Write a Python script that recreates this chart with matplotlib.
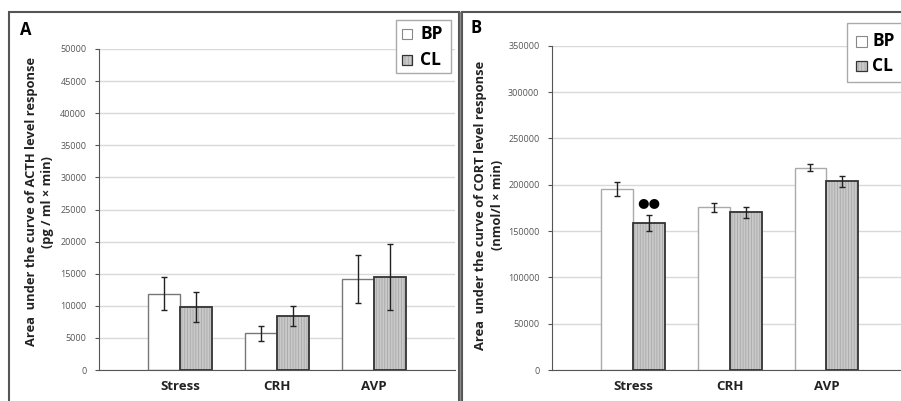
import matplotlib
matplotlib.use("Agg")
import matplotlib.pyplot as plt
from matplotlib.patches import Rectangle
import numpy as np

categories = ["Stress", "CRH", "AVP"]
acth_bp = [11900, 5700, 14200]
acth_bp_err = [2600, 1200, 3750]
acth_cl = [9800, 8400, 14500]
acth_cl_err = [2300, 1550, 5150]

cort_bp = [195000, 175500, 218500]
cort_bp_err = [7500, 5000, 4000]
cort_cl = [158500, 170300, 203500]
cort_cl_err = [9000, 6000, 5500]

yticks_a = list(range(0, 50001, 5000))
yticks_b = list(range(0, 350001, 50000))

plt.rcParams['font.family'] = ['Open Sans', 'DejaVu Sans']
plt.rcParams['hatch.linewidth'] = 0.6

W, H = 901, 401
fig = plt.figure(figsize=(W / 100, H / 100), dpi=100)


def fx(px):
    return px / W


def fy(py):
    return 1 - py / H


# panel frames
fig.patches.append(Rectangle((fx(9), fy(405)), fx(450), fy(12) - fy(405),
                             transform=fig.transFigure, fill=False,
                             edgecolor='#555555', lw=1.5))
fig.patches.append(Rectangle((fx(462), fy(405)), fx(445), fy(12) - fy(405),
                             transform=fig.transFigure, fill=False,
                             edgecolor='#555555', lw=1.5))
fig.add_artist(plt.Line2D([fx(460), fx(460)], [0, fy(12)], transform=fig.transFigure,
                          color='#888888', lw=1))

bw = 0.33
x = np.arange(len(categories))
CL_FACE = '#c9c9c9'
CL_HATCH = '#a8a8a8'


def draw(ax, bp, bpe, cl, cle, yt, ymax, bp_edge):
    ax.set_axisbelow(True)
    ax.yaxis.grid(True, color='#d9d9d9', lw=1)
    ax.bar(x - bw / 2, bp, bw, color='white', edgecolor=bp_edge, lw=1, zorder=2)
    ax.bar(x + bw / 2, cl, bw, color=CL_FACE, edgecolor=CL_HATCH, hatch='||||||',
           lw=0, zorder=2)
    ax.bar(x + bw / 2, cl, bw, fill=False, edgecolor='#333333', lw=1.3, zorder=3)
    ax.errorbar(x - bw / 2, bp, yerr=bpe, fmt='none', ecolor='#222222', elinewidth=1,
                capsize=2.5, capthick=1, zorder=4)
    ax.errorbar(x + bw / 2, cl, yerr=cle, fmt='none', ecolor='#222222', elinewidth=1,
                capsize=2.5, capthick=1, zorder=4)
    ax.set_ylim(0, ymax)
    ax.set_yticks(yt)
    ax.set_yticklabels([str(v) for v in yt], fontsize=6.5, color='#555555')
    ax.set_xticks(x)
    ax.set_xticklabels(categories, fontsize=9.5, fontweight='bold', color='#222222')
    ax.tick_params(axis='x', length=0, pad=7)
    ax.tick_params(axis='y', length=3, color='#555555', pad=6)
    for s in ['top', 'right']:
        ax.spines[s].set_visible(False)
    ax.spines['left'].set_color('#555555')
    ax.spines['bottom'].set_color('#555555')


axA = fig.add_axes([fx(99), fy(370), fx(455) - fx(99), fy(49) - fy(370)])
axA.set_xlim(-0.835, 2.835)
draw(axA, acth_bp, acth_bp_err, acth_cl, acth_cl_err, yticks_a, 50000, '#777777')

axB = fig.add_axes([fx(552), fy(370), 1 - fx(552), fy(45.7) - fy(370)])
axB.set_xlim(-0.835, 2.77)
draw(axB, cort_bp, cort_bp_err, cort_cl, cort_cl_err, yticks_b, 350000, '#aaaaaa')

# significance marker
axB.text(0 + bw / 2, cort_cl[0] + cort_cl_err[0] + 6000, "●●", ha='center', va='bottom',
         fontsize=9.5, color='black', family=['DejaVu Sans'])

# panel letters
fig.text(fx(20), fy(30), "A", fontsize=12, fontweight='bold', va='center', ha='left')
fig.text(fx(470), fy(28), "B", fontsize=12, fontweight='bold', va='center', ha='left')

# y labels
fig.text(fx(32), fy(202), "Area  under the curve of ACTH level response", rotation=90,
         fontsize=9.3, fontweight='bold', va='center', ha='center', color='#222222')
fig.text(fx(47), fy(202), "(pg / ml × min)", rotation=90,
         fontsize=9.3, fontweight='bold', va='center', ha='center', color='#222222')
fig.text(fx(481), fy(205), "Area  under the curve of CORT level response", rotation=90,
         fontsize=9.3, fontweight='bold', va='center', ha='center', color='#222222')
fig.text(fx(497), fy(205), "(nmol/l × min)", rotation=90,
         fontsize=9.3, fontweight='bold', va='center', ha='center', color='#222222')


def legend(x0, y0, x1, y1, ys, sqx, txx, fs, sq):
    fig.patches.append(Rectangle((fx(x0), fy(y1)), fx(x1 - x0), fy(y0) - fy(y1),
                                 transform=fig.transFigure, fill=True, facecolor='white',
                                 edgecolor='#aaaaaa', lw=1, zorder=5))
    for i, (lab, y) in enumerate(zip(["BP", "CL"], ys)):
        rect = (fx(sqx), fy(y + sq / 2))
        rw, rh = fx(sq), fy(y - sq / 2) - fy(y + sq / 2)
        if i == 0:
            fig.patches.append(Rectangle(rect, rw, rh, transform=fig.transFigure,
                                         facecolor='white', edgecolor='#888888', lw=0.8, zorder=6))
        else:
            fig.patches.append(Rectangle(rect, rw, rh, transform=fig.transFigure,
                                         facecolor=CL_FACE, edgecolor=CL_HATCH, hatch='|||||',
                                         lw=0, zorder=6))
            fig.patches.append(Rectangle(rect, rw, rh, transform=fig.transFigure, fill=False,
                                         edgecolor='#333333', lw=0.9, zorder=7))
        fig.text(fx(txx), fy(y), lab, fontsize=fs, fontweight='bold',
                 va='center', ha='left', zorder=8)


legend(396, 20, 451, 73, [34, 60], 402, 420, 12.5, 10)
legend(847, 23, 905, 82, [41.5, 66], 856, 872, 12.5, 10.5)

fig.savefig("out.png", dpi=100)
